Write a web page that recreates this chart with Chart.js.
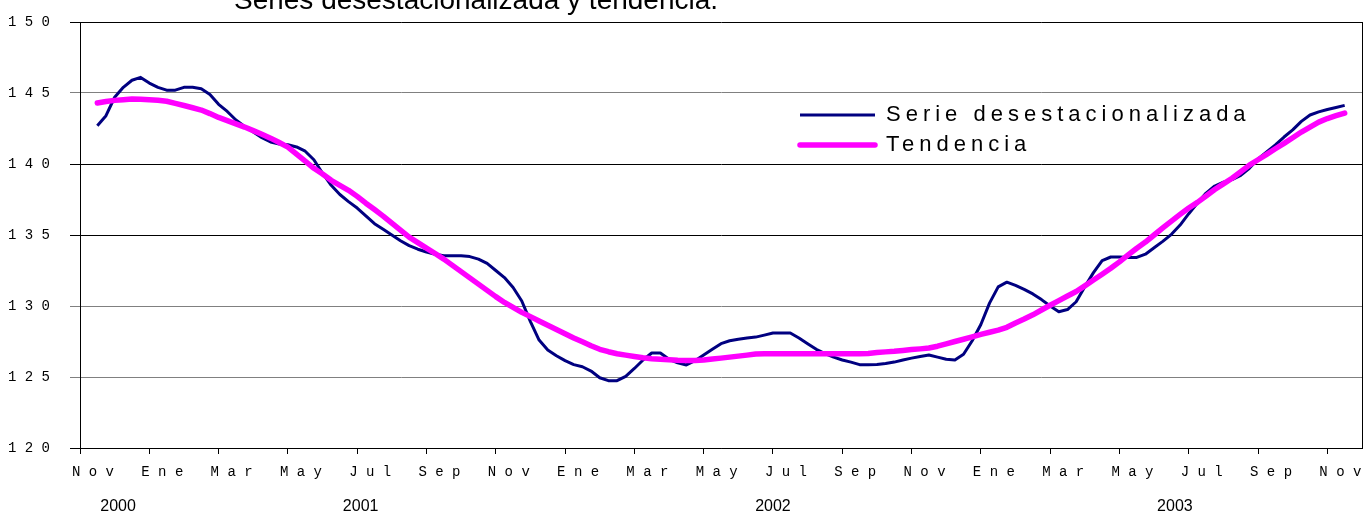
<!DOCTYPE html>
<html>
<head>
<meta charset="utf-8">
<script src="https://cdn.jsdelivr.net/npm/chart.js@4/dist/chart.umd.min.js"></script>
<style>
html,body{margin:0;padding:0;background:#fff;overflow:hidden}
canvas{display:block}
</style>
</head>
<body>
<canvas id="c" width="1367" height="513"></canvas>
<script>
const titleText = 'Series desestacionalizada y tendencia.';
const seriesNames = ['Serie desestacionalizada', 'Tendencia'];
const monthTicks = ['Nov','Ene','Mar','May','Jul','Sep','Nov','Ene','Mar','May','Jul','Sep','Nov','Ene','Mar','May','Jul','Sep','Nov'];
const yearLabels = ['2000', '2001', '2002', '2003'];
const yearTickMonths = [1.1, 8.1, 20.0, 31.6];

// weekly readings (4 per month), mid Nov 2000 -> mid Nov 2003
const serie = [
  142.7, 143.4, 144.7, 145.4, 145.9, 146.1, 145.7, 145.4, 145.2, 145.2,
  145.4, 145.4, 145.3, 144.9, 144.2, 143.7, 143.1, 142.65, 142.25, 141.85,
  141.55, 141.4, 141.36, 141.2, 140.9, 140.3, 139.35, 138.5, 137.85, 137.35,
  136.9, 136.35, 135.8, 135.4, 135.0, 134.6, 134.25, 134.0, 133.8, 133.65,
  133.54, 133.54, 133.54, 133.48, 133.3, 133.0, 132.5, 132.0, 131.3, 130.35,
  128.9, 127.6, 126.9, 126.5, 126.15, 125.87, 125.72, 125.42, 124.95, 124.74,
  124.74, 125.05, 125.6, 126.2, 126.69, 126.69, 126.25, 126.0, 125.85, 126.15,
  126.55, 126.95, 127.35, 127.55, 127.66, 127.75, 127.81, 127.95, 128.1, 128.1,
  128.1, 127.75, 127.35, 126.95, 126.65, 126.4, 126.2, 126.05, 125.87, 125.87,
  125.88, 125.95, 126.05, 126.2, 126.33, 126.45, 126.55, 126.4, 126.25, 126.2,
  126.6, 127.55, 128.7, 130.2, 131.35, 131.68, 131.45, 131.17, 130.85, 130.45,
  130.0, 129.6, 129.75, 130.3, 131.35, 132.35, 133.2, 133.45, 133.45, 133.42,
  133.42, 133.65, 134.1, 134.55, 135.05, 135.7, 136.5, 137.25, 137.95, 138.45,
  138.72, 138.9, 139.2, 139.7, 140.35, 140.85, 141.35, 141.9, 142.4, 143.0,
  143.45, 143.67, 143.84, 143.98, 144.13
];
const tendencia = [
  144.3, 144.4, 144.48, 144.53, 144.57, 144.56, 144.53, 144.49, 144.42, 144.27,
  144.12, 143.96, 143.8, 143.55, 143.28, 143.06, 142.83, 142.6, 142.35, 142.09,
  141.82, 141.51, 141.19, 140.69, 140.2, 139.7, 139.3, 138.85, 138.5, 138.15,
  137.72, 137.24, 136.79, 136.33, 135.83, 135.34, 134.85, 134.46, 134.08, 133.7,
  133.3, 132.86, 132.42, 131.98, 131.54, 131.1, 130.66, 130.25, 129.9, 129.55,
  129.25, 128.95, 128.65, 128.35, 128.05, 127.75, 127.48, 127.2, 126.95, 126.78,
  126.64, 126.54, 126.45, 126.36, 126.29, 126.25, 126.22, 126.18, 126.16, 126.16,
  126.2, 126.27, 126.33, 126.4, 126.47, 126.54, 126.62, 126.63, 126.64, 126.64,
  126.64, 126.64, 126.64, 126.64, 126.64, 126.64, 126.64, 126.64, 126.64, 126.66,
  126.72, 126.77, 126.81, 126.87, 126.93, 126.98, 127.04, 127.17, 127.33, 127.5,
  127.66, 127.83, 128.0, 128.15, 128.3, 128.5, 128.8, 129.08, 129.38, 129.72,
  130.05, 130.38, 130.7, 131.02, 131.42, 131.83, 132.24, 132.66, 133.11, 133.6,
  134.07, 134.5, 135.0, 135.5, 135.98, 136.45, 136.9, 137.3, 137.75, 138.2,
  138.6, 139.0, 139.45, 139.92, 140.3, 140.68, 141.07, 141.45, 141.85, 142.25,
  142.6, 142.95, 143.2, 143.4, 143.59
];

const toPoints = arr => arr.map((v, i) => ({ x: 0.5 + i * 0.25, y: v }));
const spaced = s => String(s).split('').join(' ');

const SANS = '"Liberation Sans", Arial, Helvetica, sans-serif';
const MONO = '"Liberation Mono", "Courier New", monospace';
Chart.defaults.font.family = SANS;
Chart.defaults.color = '#000';

const decor = {
  id: 'decor',
  beforeDraw(chart) {
    const lg = chart.legend;
    if (lg) {
      lg.left = 792; lg.top = 96; lg.width = 560; lg.height = 100;
      lg.right = lg.left + lg.width; lg.bottom = lg.top + lg.height;
      if (!lg.__spaced) {
        const orig = lg.draw;
        lg.draw = function () {
          const c = this.ctx;
          const prev = c.letterSpacing;
          c.letterSpacing = '5px';
          orig.apply(this, arguments);
          c.letterSpacing = prev || '0px';
        };
        lg.__spaced = true;
      }
    }
  },
  beforeDatasetsDraw(chart) {
    const { ctx, chartArea } = chart;
    ctx.save();
    ctx.strokeStyle = '#000';
    ctx.lineWidth = 1;
    ctx.beginPath();
    const x = Math.round(chartArea.right) + 0.5;
    ctx.moveTo(x, Math.round(chartArea.top));
    ctx.lineTo(x, Math.round(chartArea.bottom) + 1);
    ctx.stroke();
    ctx.restore();
  },
  afterDraw(chart) {
    const ctx = chart.ctx;
    ctx.save();
    ctx.font = '28px ' + SANS;
    ctx.fillStyle = '#000';
    ctx.textBaseline = 'alphabetic';
    ctx.textAlign = 'left';
    ctx.fillText(titleText, 234, 9);
    ctx.restore();
  }
};

const gridColor = c => {
  const v = c.tick ? c.tick.value : null;
  return (v === 145 || v === 130 || v === 125) ? '#808080' : '#000000';
};

new Chart(document.getElementById('c'), {
  type: 'line',
  data: {
    datasets: [
      {
        label: seriesNames[0],
        data: toPoints(serie),
        borderColor: '#000080',
        backgroundColor: '#000080',
        borderWidth: 3,
        pointRadius: 0,
        tension: 0,
        order: 1,
        borderJoinStyle: 'round'
      },
      {
        label: seriesNames[1],
        data: toPoints(tendencia),
        borderColor: '#FF00FF',
        backgroundColor: '#FF00FF',
        borderWidth: 5.5,
        pointRadius: 0,
        tension: 0,
        order: 0,
        borderCapStyle: 'round',
        borderJoinStyle: 'round'
      }
    ]
  },
  options: {
    responsive: false,
    animation: false,
    layout: { padding: { top: 22, right: 5, left: 0, bottom: 0 } },
    plugins: {
      tooltip: { enabled: false },
      title: { display: false },
      legend: {
        display: true,
        position: 'chartArea',
        align: 'start',
        labels: {
          usePointStyle: true,
          pointStyleWidth: 75,
          padding: 8,
          color: '#000',
          font: { size: 22, family: SANS },
          generateLabels: chart => chart.data.datasets.map((ds, i) => ({
            text: ds.label,
            fillStyle: ds.borderColor,
            strokeStyle: ds.borderColor,
            lineWidth: ds.borderWidth,
            lineCap: i === 1 ? 'round' : 'butt',
            pointStyle: 'line',
            hidden: false,
            datasetIndex: i
          }))
        }
      }
    },
    scales: {
      x: {
        type: 'linear',
        position: 'bottom',
        weight: 0,
        min: 0,
        max: 37,
        afterBuildTicks: s => { s.ticks = monthTicks.map((_, i) => ({ value: i * 2 })); },
        afterFit: s => { s.height = 39; },
        grid: { drawOnChartArea: false, drawTicks: true, tickLength: 6, color: '#000' },
        border: { display: true, color: '#000', width: 1 },
        ticks: {
          autoSkip: false,
          maxRotation: 0,
          minRotation: 0,
          padding: 10,
          labelOffset: 13,
          color: '#000',
          font: { size: 14, family: MONO },
          callback: (v, i) => spaced(monthTicks[i])
        }
      },
      yr: {
        type: 'linear',
        position: 'bottom',
        weight: 1,
        min: 0,
        max: 37,
        afterBuildTicks: s => { s.ticks = yearTickMonths.map(v => ({ value: v })); },
        afterFit: s => { s.height = 26; },
        grid: { display: false, drawTicks: false, drawOnChartArea: false },
        border: { display: false },
        ticks: {
          autoSkip: false,
          maxRotation: 0,
          minRotation: 0,
          padding: 10,
          color: '#000',
          font: { size: 16, family: SANS },
          callback: (v, i) => yearLabels[i]
        }
      },
      y: {
        type: 'linear',
        position: 'left',
        min: 120,
        max: 150,
        afterFit: s => { s.width = 80; s.paddingTop = 8; s.paddingBottom = 8; },
        grid: { color: gridColor, tickColor: gridColor, tickLength: 10, lineWidth: 1 },
        border: { display: true, color: '#000', width: 1 },
        ticks: {
          stepSize: 5,
          padding: 20,
          color: '#000',
          font: { size: 14, family: MONO },
          callback: v => spaced(v)
        }
      }
    }
  },
  plugins: [decor]
});
</script>
</body>
</html>
